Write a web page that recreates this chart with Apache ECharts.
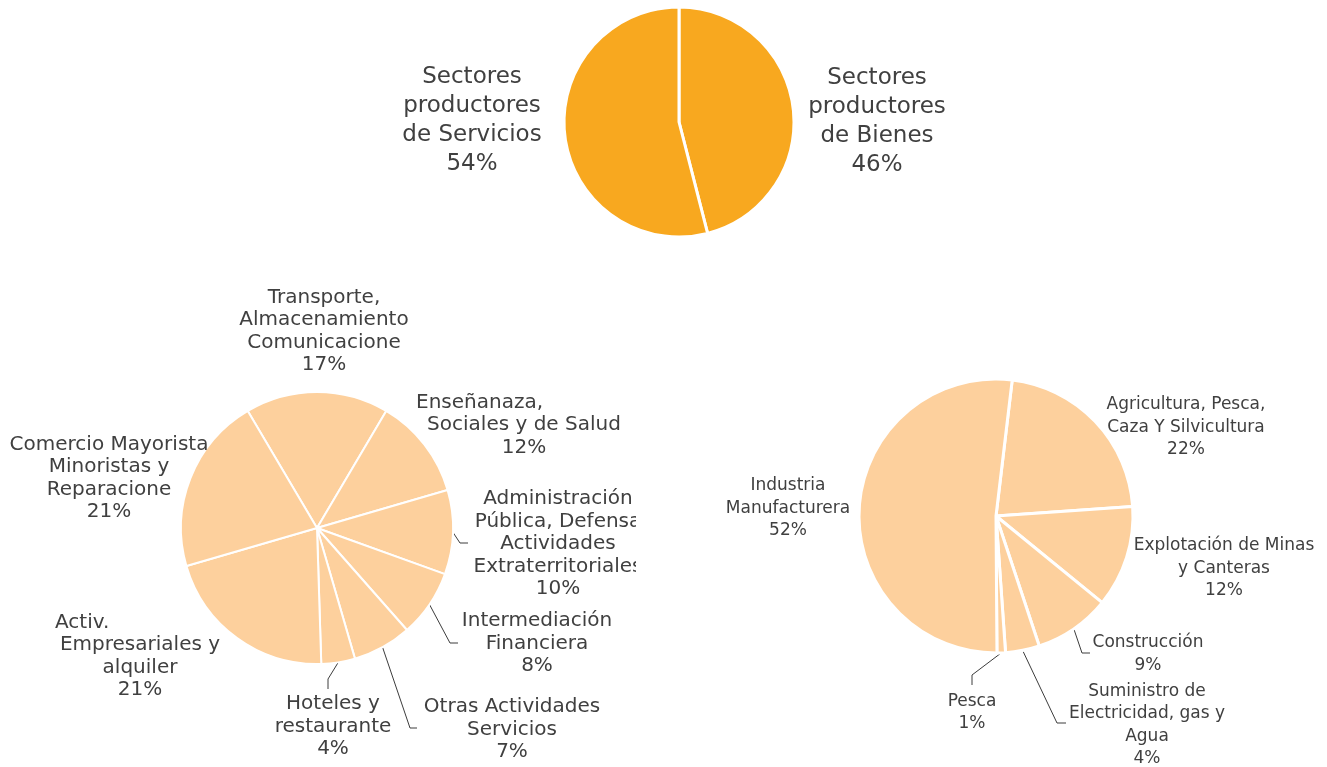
<!DOCTYPE html>
<html><head><meta charset="utf-8">
<script src="https://cdn.jsdelivr.net/npm/echarts@6/dist/echarts.min.js"></script>
<style>html,body{margin:0;padding:0;background:#fff}#c{width:1327px;height:767px}</style>
</head><body><div id="c"></div>
<script>
// ---- data ----
const sectorNames = ['Sectores\nproductores\nde Bienes', 'Sectores\nproductores\nde Servicios'];
const sectorValues = [46, 54];

const serviceNames = [
  'Transporte,\nAlmacenamiento\nComunicacione',
  'Enseñanaza,\nSociales y de Salud',
  'Administración\nPública, Defensa\nActividades\nExtraterritoriales',
  'Intermediación\nFinanciera',
  'Otras Actividades\nServicios',
  'Hoteles y\nrestaurante',
  'Activ.\nEmpresariales y\nalquiler',
  'Comercio Mayorista\nMinoristas y\nReparacione'
];
const serviceValues = [17, 12, 10, 8, 7, 4, 21, 21];

const goodsNames = [
  'Agricultura, Pesca,\nCaza Y Silvicultura',
  'Explotación de Minas\ny Canteras',
  'Construcción',
  'Suministro de\nElectricidad, gas y\nAgua',
  'Pesca',
  'Industria\nManufacturera'
];
const goodsValues = [22, 12, 9, 4, 1, 52];

// ---- label layout (positions of label blocks, leader line bends) ----
const topLayout = [{x: 877, y: 122}, {x: 472, y: 121}];
const serviceLayout = [
  {x: 324, y: 331.5},
  {x: 524, y: 425, lead: 216},
  {x: 558, y: 544, line: [[460, 543], [468, 543]]},
  {x: 537, y: 643.5, line: [[450, 643], [458, 643]]},
  {x: 512, y: 729.5, line: [[410, 728], [417, 728]]},
  {x: 333, y: 726.5, line: [[328, 679], [328, 689]]},
  {x: 140, y: 656.5, lead: 170},
  {x: 109, y: 478.5}
];
const goodsLayout = [
  {x: 1186, y: 427.5},
  {x: 1224, y: 568.5},
  {x: 1148, y: 654, line: [[1082, 653], [1090, 653]]},
  {x: 1147, y: 725, line: [[1057, 723], [1066, 723]]},
  {x: 972, y: 712.5, line: [[972, 675], [972, 685]]},
  {x: 788, y: 508.5}
];

const FONT = '"DejaVu Sans", Verdana, sans-serif';
const TEXT = '#404040';

function buildData(names, values, layout) {
  return names.map((n, i) => ({name: n, value: values[i], labelLine: {show: !!layout[i].line}}));
}
function makeFormatter(layout) {
  return function (p) {
    const L = layout[p.dataIndex];
    const lines = p.name.split('\n');
    if (L.lead) lines[0] = '{lead|' + lines[0] + '}';
    return lines.join('\n') + '\n' + p.value + '%';
  };
}
function makeLabelLayout(layout) {
  return function (params) {
    const L = layout[params.dataIndex];
    const out = {x: L.x, y: L.y, align: 'center', verticalAlign: 'middle'};
    if (L.line && params.labelLinePoints) {
      out.labelLinePoints = [params.labelLinePoints[0], L.line[0], L.line[1]];
    }
    return out;
  };
}
function pieSeries(cfg) {
  return {
    type: 'pie',
    silent: true,
    animation: false,
    center: cfg.center,
    radius: cfg.radius,
    startAngle: cfg.startAngle,
    clockwise: true,
    avoidLabelOverlap: false,
    data: buildData(cfg.names, cfg.values, cfg.layout),
    itemStyle: {color: cfg.color, borderColor: '#fff', borderWidth: cfg.border},
    label: {
      show: true,
      position: 'outside',
      color: TEXT,
      fontFamily: FONT,
      fontSize: cfg.fontSize,
      lineHeight: cfg.lineHeight,
      formatter: makeFormatter(cfg.layout),
      rich: {
        lead: {width: 0, align: 'left', fontSize: cfg.fontSize, lineHeight: cfg.lineHeight, fontFamily: FONT, color: TEXT}
      }
    },
    labelLine: {show: true, length: 10, length2: 10, lineStyle: {color: '#3c3c3c', width: 1}},
    labelLayout: makeLabelLayout(cfg.layout),
    emphasis: {disabled: true}
  };
}

function applyLeads(series, layout, cfg) {
  series.data.forEach((d, i) => {
    if (layout[i].lead) {
      d.label = {rich: {lead: {width: layout[i].lead, align: 'left', fontSize: cfg.fontSize, lineHeight: cfg.lineHeight, fontFamily: FONT, color: TEXT}}};
    }
  });
  return series;
}

const topCfg = {names: sectorNames, values: sectorValues, layout: topLayout, center: [679, 122], radius: 115,
  startAngle: 90, color: '#F8A81F', border: 3, fontSize: 23, lineHeight: 29};
const leftCfg = {names: serviceNames, values: serviceValues, layout: serviceLayout, center: [317, 528], radius: 136,
  startAngle: 90 + serviceValues[0] / serviceValues.reduce((a, b) => a + b, 0) * 180,
  color: '#FDD09D', border: 2, fontSize: 20, lineHeight: 22.5};
const rightCfg = {names: goodsNames, values: goodsValues, layout: goodsLayout, center: [996, 516], radius: 137,
  startAngle: 83.2, color: '#FDD09D', border: 3, fontSize: 17, lineHeight: 22.5};

const chart = echarts.init(document.getElementById('c'), null, {renderer: 'canvas'});
chart.setOption({
  backgroundColor: '#ffffff',
  animation: false,
  series: [
    pieSeries(topCfg),
    applyLeads(pieSeries(leftCfg), serviceLayout, leftCfg),
    pieSeries(rightCfg)
  ],
  graphic: [{type: 'rect', z: 100, silent: true, shape: {x: 636, y: 485, width: 60, height: 120}, style: {fill: '#ffffff'}}]
});
</script>
</body></html>
